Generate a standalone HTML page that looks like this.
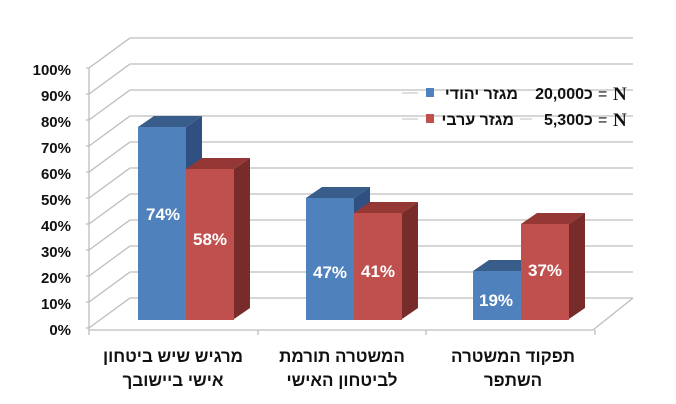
<!DOCTYPE html>
<html><head><meta charset="utf-8"><style>
body{margin:0;background:#fff}
svg{display:block}
.t{font-family:"Liberation Sans","DejaVu Sans",sans-serif;font-weight:bold}
.h{font-family:"Liberation Sans","Noto Sans CJK SC",sans-serif;font-weight:bold}
</style></head><body>
<svg width="676" height="404" viewBox="0 0 676 404" xmlns="http://www.w3.org/2000/svg">
<g stroke="#bdbdbd" stroke-width="1.3" fill="none">
<path d="M130,38H633M130,64H633M130,90H633M130,116H633M130,142H633M130,168H633M130,194H633M130,220H633M130,246H633M130,272H633M130,298H633"/>
<path d="M89,68L130,38M89,94L130,64M89,120L130,90M89,146L130,116M89,172L130,142M89,198L130,168M89,224L130,194M89,250L130,220M89,276L130,246M89,302L130,272M89,328L130,298"/>
<path d="M89,68V330M86,68H89M86,94H89M86,120H89M86,146H89M86,172H89M86,198H89M86,224H89M86,250H89M86,276H89M86,302H89M86,328H89"/>
<path d="M89,330H593L633,298M89,330V335M258,330V335M426,330V335M595,330V335"/>
</g>
<g class="t" font-size="15" fill="#111" text-anchor="end">
<text x="71" y="75">100%</text><text x="71" y="101">90%</text><text x="71" y="127">80%</text><text x="71" y="153">70%</text><text x="71" y="179">60%</text><text x="71" y="205">50%</text><text x="71" y="231">40%</text><text x="71" y="257">30%</text><text x="71" y="283">20%</text><text x="71" y="309">10%</text><text x="71" y="335">0%</text>
</g>
<g>
<path d="M138,127l16,-11h48l-16,11z" fill="#385d8a"/><path d="M186,127l16,-11v192l-16,11z" fill="#2f5080"/><rect x="138" y="127" width="48" height="193" fill="#4f81bd"/>
<path d="M186,169l16,-11h48l-16,11z" fill="#953735"/><path d="M234,169l16,-11v150l-16,11z" fill="#772c2a"/><rect x="186" y="169" width="48" height="151" fill="#c0504d"/>
<path d="M306,198l16,-11h48l-16,11z" fill="#385d8a"/><path d="M354,198l16,-11v121l-16,11z" fill="#2f5080"/><rect x="306" y="198" width="48" height="122" fill="#4f81bd"/>
<path d="M354,213l16,-11h48l-16,11z" fill="#953735"/><path d="M402,213l16,-11v106l-16,11z" fill="#772c2a"/><rect x="354" y="213" width="48" height="107" fill="#c0504d"/>
<path d="M473,271l16,-11h48l-16,11z" fill="#385d8a"/><path d="M521,271l16,-11v48l-16,11z" fill="#2f5080"/><rect x="473" y="271" width="48" height="49" fill="#4f81bd"/>
<path d="M521,224l16,-11h48l-16,11z" fill="#953735"/><path d="M569,224l16,-11v95l-16,11z" fill="#772c2a"/><rect x="521" y="224" width="48" height="96" fill="#c0504d"/>
</g>
<g class="t" font-size="17" fill="#fff" text-anchor="middle">
<text x="163" y="220">74%</text><text x="210" y="245">58%</text>
<text x="330" y="278">47%</text><text x="378" y="277">41%</text>
<text x="496" y="306">19%</text><text x="545" y="276">37%</text>
</g>
<g class="h" font-size="17" fill="#111" text-anchor="middle">
<text x="173" y="362">מרגיש שיש ביטחון</text><text x="173" y="386">אישי ביישובך</text>
<text x="342" y="362">המשטרה תורמת</text><text x="342" y="386">לביטחון האישי</text>
<text x="513" y="362">תפקוד המשטרה</text><text x="513" y="386">השתפר</text>
</g>
<rect x="426" y="88" width="8" height="9" fill="#4f81bd"/>
<rect x="426" y="114" width="8" height="9" fill="#c0504d"/>
<line x1="402" y1="93" x2="418" y2="93" stroke="#bdbdbd"/>
<line x1="402" y1="119" x2="418" y2="119" stroke="#bdbdbd"/>
<line x1="520" y1="119" x2="532" y2="119" stroke="#bdbdbd"/>
<g class="h" font-size="16" fill="#111">
<text x="518" y="99" text-anchor="end">מגזר יהודי</text>
<text x="514" y="125" text-anchor="end">מגזר ערבי</text>
<text x="584" y="99" text-anchor="end">20,000</text>
<text x="584" y="99">כ</text>
<text x="598" y="99" font-weight="normal">=</text>
<text x="613" y="100" font-family="Liberation Serif" font-size="19">N</text>
<text x="584" y="125" text-anchor="end">5,300</text>
<text x="584" y="125">כ</text>
<text x="598" y="125" font-weight="normal">=</text>
<text x="613" y="126" font-family="Liberation Serif" font-size="19">N</text>
</g>
</svg>
</body></html>
